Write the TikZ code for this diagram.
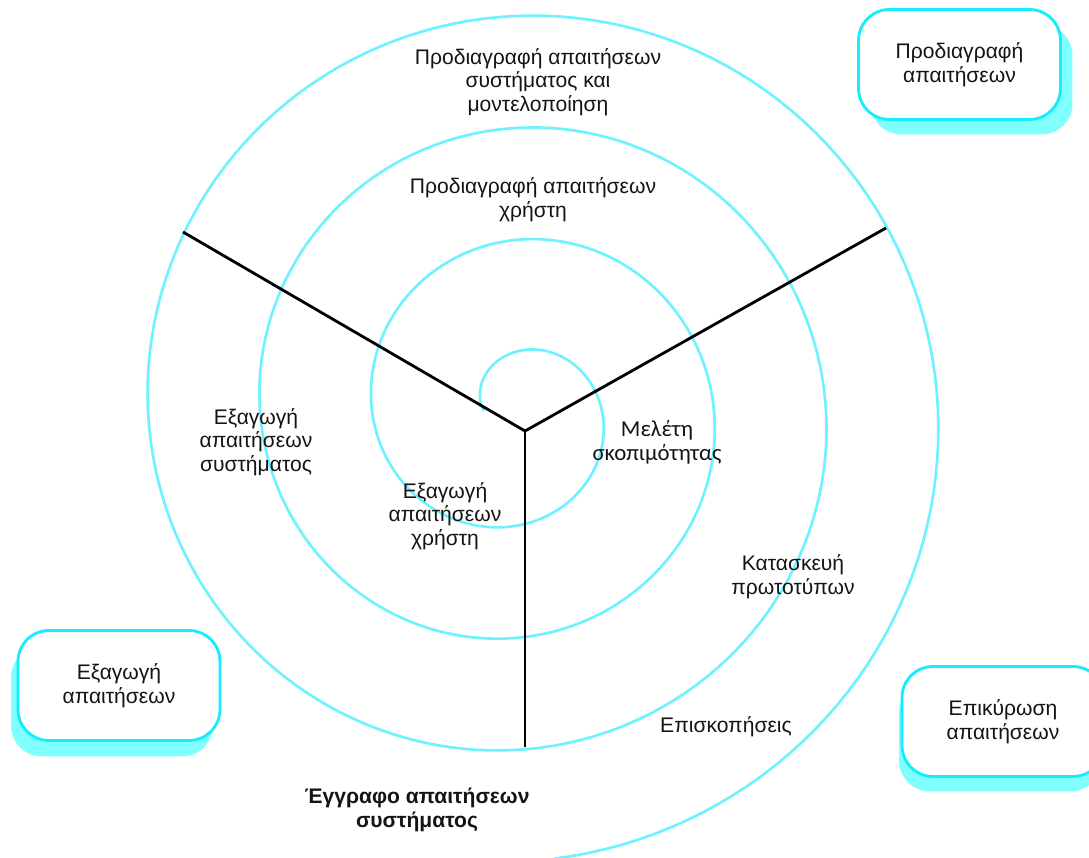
\documentclass[tikz,border=0pt]{standalone}
\usepackage{fontspec}
\setmainfont{Liberation Sans}
\newfontfamily\altfont{Carlito}
\usetikzlibrary{shadows}
\definecolor{spiralcyan}{RGB}{110,242,255}
\definecolor{boxcyan}{RGB}{20,236,255}
\definecolor{shadecyan}{RGB}{128,255,255}
\definecolor{ink}{RGB}{20,20,20}

\begin{document}
\begin{tikzpicture}[x=0.02cm,y=-0.02cm,
  lbl/.style={align=center, text=ink, inner sep=0pt,
    font=\fontsize{12}{13.4}\selectfont},
  phase/.style={draw=boxcyan, line width=1.6pt, fill=white,
    rounded corners=0.62cm, minimum width=4.04cm, minimum height=2.2cm,
    align=center, text=ink, font=\fontsize{12}{13.6}\selectfont},
  spoke/.style={line width=1.6pt, black},
  spiralline/.style={draw=spiralcyan, line width=1.5pt}]

\useasboundingbox (0,0) rectangle (1089,858);
\clip (0,0) rectangle (1089,858);

% Archimedean spiral, winding clockwise outwards
\draw[spiralline] plot[domain=0:1345, samples=600, variable=\t]
  ({515-(31+0.31111*\t)*cos(\t)}, {411-(31+0.31111*\t)*sin(\t)});

% three spokes splitting the activity sectors
\coordinate (hub) at (525,431);
\coordinate (nw) at (183,232);
\coordinate (ne) at (886,228);
\coordinate (s)  at (525,747);
\draw[spoke] (hub) -- (nw);
\draw[spoke] (hub) -- (ne);
\draw[spoke] (hub) -- (s);

% activity labels
\node[lbl] (sysspec)  at (538,82)  {Προδιαγραφή απαιτήσεων\\συστήματος και\\μοντελοποίηση};
\node[lbl] (userspec) at (533,200) {Προδιαγραφή απαιτήσεων\\χρήστη};
\node[lbl] (syselic)  at (256,442) {Εξαγωγή\\απαιτήσεων\\συστήματος};
\node[lbl] (userelic) at (445,516) {Εξαγωγή\\απαιτήσεων\\χρήστη};
\node[lbl, font=\altfont\fontsize{13}{13.6}\selectfont] (feas) at (657,442) {Μελέτη\\σκοπιμότητας};
\node[lbl] (proto)    at (793,577) {Κατασκευή\\πρωτοτύπων};
\node[lbl] (reviews)  at (726,727) {Επισκοπήσεις};
\node[lbl, font=\bfseries\fontsize{12}{13.4}\selectfont] (doc) at (417,810) {Έγγραφο απαιτήσεων\\συστήματος};

% phase boxes with offset shadows
\node[phase, drop shadow={shadow xshift=0.24cm, shadow yshift=-0.30cm, fill=shadecyan, opacity=1}]
  (specbox) at (959.5,64.5) {Προδιαγραφή\\απαιτήσεων};
\node[phase, drop shadow={shadow xshift=-0.14cm, shadow yshift=-0.32cm, fill=shadecyan, opacity=1}]
  (elicbox) at (119,685.5) {Εξαγωγή\\απαιτήσεων};
\node[phase, drop shadow={shadow xshift=-0.06cm, shadow yshift=-0.30cm, fill=shadecyan, opacity=1}]
  (valbox) at (1003,721.5) {Επικύρωση\\απαιτήσεων};
\end{tikzpicture}
\end{document}
